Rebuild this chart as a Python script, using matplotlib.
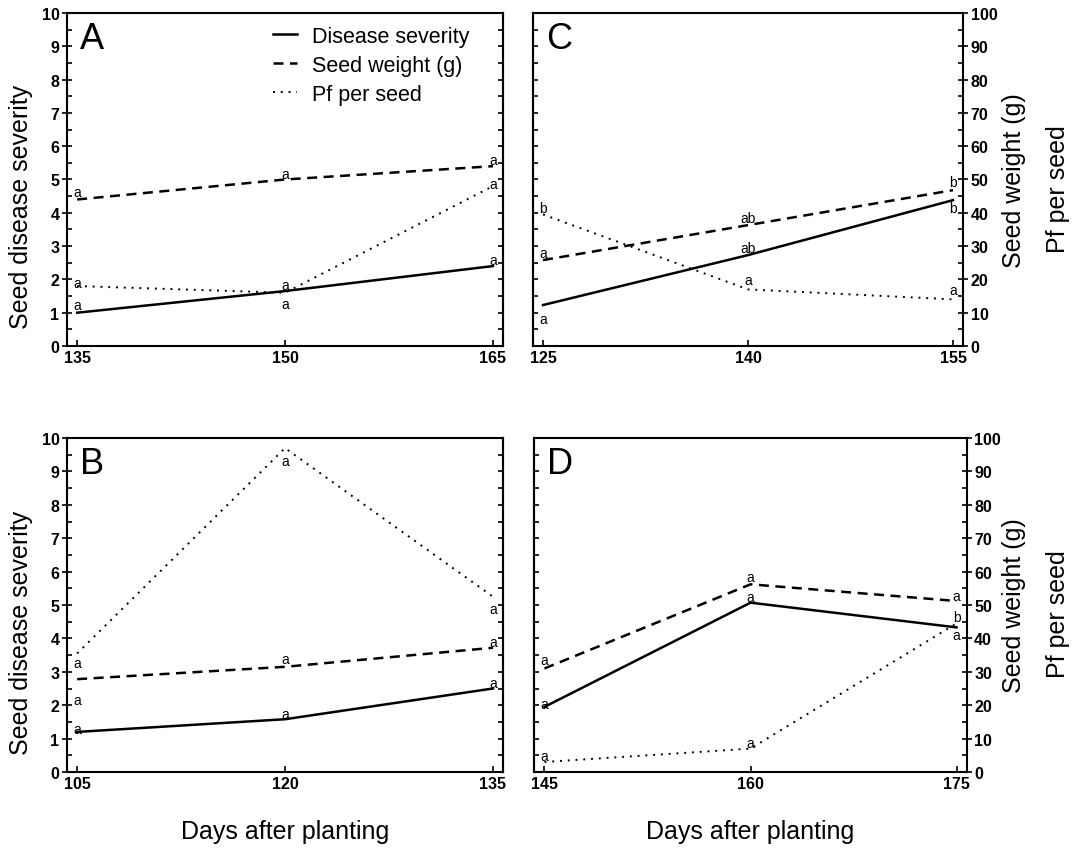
import numpy as np
import matplotlib
matplotlib.use('Agg')
import matplotlib.pyplot as plt
from matplotlib.ticker import MultipleLocator

plt.rcParams['font.family'] = ['Liberation Sans', 'DejaVu Sans']
plt.rcParams['axes.linewidth'] = 1.5

# Panel A (0-10 scale)
days_A = [135, 150, 165]
severity_A = [1.0, 1.65, 2.4]
weight_A = [4.4, 5.0, 5.4]
pf_A = [1.8, 1.6, 4.8]
let_A = ['a', 'a', 'a', 'a', 'a', 'a', 'a', 'a', 'a']
let_y_A = [4.63, 1.9, 1.22, 5.16, 1.82, 1.25, 5.6, 4.86, 2.58]

# Panel B (0-10 scale)
days_B = [105, 120, 135]
severity_B = [1.2, 1.58, 2.5]
weight_B = [2.78, 3.15, 3.72]
pf_B = [3.55, 9.7, 5.25]
let_B = ['a', 'a', 'a', 'a', 'a', 'a', 'a', 'a', 'a']
let_y_B = [3.25, 2.17, 1.3, 9.3, 3.37, 1.75, 4.87, 3.9, 2.65]

# Panel C (0-100 scale)
days_C = [125, 140, 155]
severity_C = [12.3, 27.3, 43.8]
weight_C = [25.8, 36.3, 46.8]
pf_C = [39.5, 17.0, 14.0]
let_C = ['b', 'a', 'a', 'ab', 'ab', 'a', 'b', 'b', 'a']
let_y_C = [41.5, 28.0, 8.0, 38.3, 29.3, 19.8, 49.3, 41.3, 16.8]

# Panel D (0-100 scale)
days_D = [145, 160, 175]
severity_D = [19.5, 50.7, 43.3]
weight_D = [31.0, 56.2, 51.2]
pf_D = [3.0, 7.0, 44.5]
let_D = ['a', 'a', 'a', 'a', 'a', 'a', 'a', 'b', 'a']
let_y_D = [33.5, 20.5, 4.7, 58.3, 52.5, 8.8, 52.8, 46.5, 41.0]

panels = [
    ('A', [0.0619, 0.5932, 0.4026, 0.3904], days_A, severity_A, weight_A, pf_A, let_A, let_y_A, 10),
    ('B', [0.0619, 0.0938, 0.4026, 0.3915], days_B, severity_B, weight_B, pf_B, let_B, let_y_B, 10),
    ('C', [0.4922, 0.5932, 0.3970, 0.3904], days_C, severity_C, weight_C, pf_C, let_C, let_y_C, 100),
    ('D', [0.4935, 0.0938, 0.3990, 0.3915], days_D, severity_D, weight_D, pf_D, let_D, let_y_D, 100),
]

fig = plt.figure(figsize=(10.83, 8.53), dpi=100)

for name, rect, days, sev, wt, pf, lets, let_y, top in panels:
    ax = fig.add_axes(rect)
    ax.plot(days, sev, color='black', lw=1.8, ls='-', label='Disease severity')
    ax.plot(days, wt, color='black', lw=1.8, ls=(0, (4, 2.6)), label='Seed weight (g)')
    ax.plot(days, pf, color='black', lw=1.4, ls=(0, (1, 3.0)), label='Pf per seed')
    for i, (s, y) in enumerate(zip(lets, let_y)):
        ax.text(days[i // 3], y, s, ha='center', va='center', fontsize=10)

    ax.set_xlim(days[0] - 0.73, days[-1] + 0.73)
    ax.set_ylim(0, top)
    ax.set_xticks(days)
    ax.tick_params(axis='x', direction='in', length=4, width=1.2, pad=3, labelsize=11.5)

    if top == 10:
        ax.yaxis.set_major_locator(MultipleLocator(1))
        ax.yaxis.set_minor_locator(MultipleLocator(0.5))
        ax.tick_params(axis='y', which='major', direction='inout', length=7, width=1.2, pad=2, labelsize=11.5)
        ax.tick_params(axis='y', which='minor', direction='in', length=3.5, width=1.2)
        sec = ax.secondary_yaxis('right')
        sec.set_yticks(np.arange(0, 10.5, 0.5))
        sec.tick_params(direction='in', length=3.5, width=1.2, labelright=False)
        ax.set_ylabel('Seed disease severity', fontsize=18)
        ax.yaxis.set_label_coords(-0.078, 0.42)
    else:
        ax.yaxis.tick_right()
        ax.yaxis.set_major_locator(MultipleLocator(10))
        ax.yaxis.set_minor_locator(MultipleLocator(5))
        ax.tick_params(axis='y', which='major', direction='inout', length=7, width=1.2, pad=2, labelsize=11.5)
        ax.tick_params(axis='y', which='minor', direction='in', length=3.5, width=1.2)
        sec = ax.secondary_yaxis('left')
        sec.set_yticks(np.arange(0, 105, 5))
        sec.tick_params(direction='in', length=3.5, width=1.2, labelleft=False)
        ymid = rect[1] + rect[3] / 2
        fig.text(0.936, ymid, 'Seed weight (g)', rotation=90, ha='center', va='center', fontsize=18)
        fig.text(0.977, ymid - 0.01, 'Pf per seed', rotation=90, ha='center', va='center', fontsize=18)

    for lab in ax.get_xticklabels() + ax.get_yticklabels():
        lab.set_fontweight('bold')

    ax.text(0.03, 0.975, name, transform=ax.transAxes, ha='left', va='top', fontsize=26)

    if name in ('B', 'D'):
        ax.set_xlabel('Days after planting', fontsize=18, labelpad=20)

    if name == 'A':
        ax.legend(loc='upper left', bbox_to_anchor=(0.472, 0.962), frameon=False,
                  fontsize=15.5, handlelength=1.1, handletextpad=0.7,
                  labelspacing=0.38, borderpad=0, borderaxespad=0)

fig.savefig('out.png', dpi=100)
